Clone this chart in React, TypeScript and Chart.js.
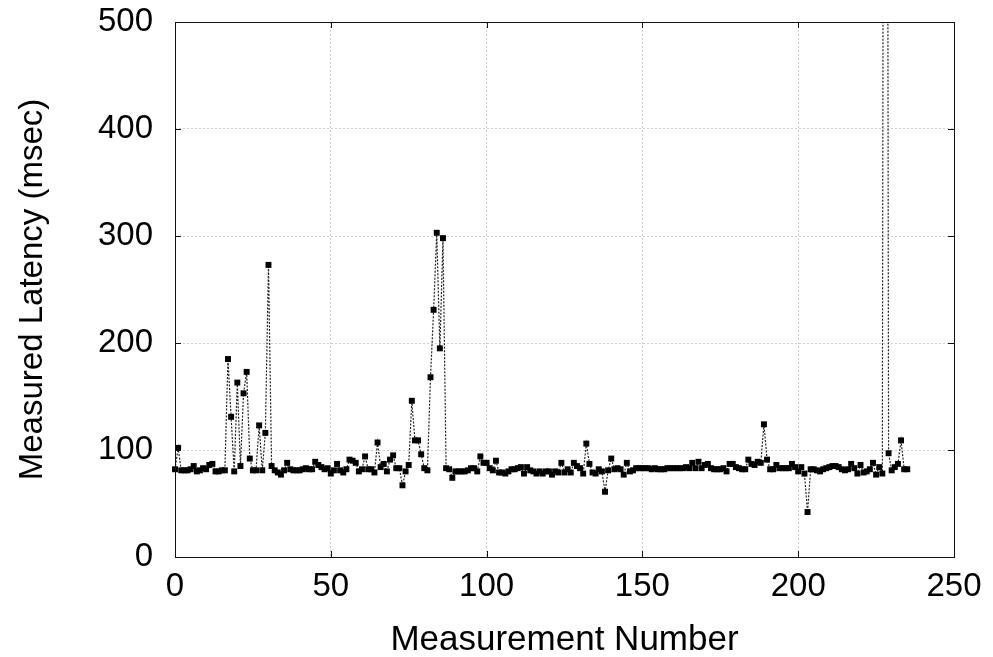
import React, { useEffect, useRef } from "react";
import { Chart, registerables } from "chart.js";

Chart.register(...registerables);

// Measured latency (msec) for measurement numbers 0..235
const latencyMs: number[] = [
  82, 102, 81, 81, 81, 82, 85, 80, 81, 83,
  82, 86, 87, 80, 80, 81, 81, 185, 131, 80,
  163, 85, 153, 173, 92, 81, 81, 123, 81, 116,
  273, 85, 81, 79, 77, 81, 88, 82, 81, 81,
  81, 82, 83, 82, 82, 89, 86, 84, 82, 83,
  78, 81, 87, 81, 79, 82, 91, 90, 88, 80,
  82, 94, 82, 82, 79, 107, 84, 87, 80, 91,
  95, 83, 83, 67, 80, 86, 146, 109, 109, 96,
  83, 81, 168, 231, 303, 195, 298, 83, 82, 74,
  80, 80, 80, 80, 81, 83, 83, 80, 94, 88,
  88, 83, 81, 90, 79, 79, 78, 80, 82, 82,
  83, 84, 78, 84, 81, 80, 78, 80, 78, 80,
  80, 77, 80, 79, 88, 79, 82, 79, 88, 85,
  83, 78, 106, 87, 79, 78, 82, 80, 61, 81,
  92, 82, 83, 82, 77, 88, 80, 81, 83, 83,
  83, 83, 83, 82, 83, 82, 82, 82, 83, 83,
  83, 83, 83, 83, 84, 83, 88, 83, 89, 83,
  86, 87, 83, 82, 82, 82, 83, 80, 87, 87,
  84, 83, 82, 82, 91, 87, 86, 89, 88, 124,
  91, 82, 82, 86, 83, 83, 83, 83, 87, 84,
  80, 84, 78, 42, 82, 82, 81, 80, 82, 83,
  84, 85, 85, 84, 82, 81, 82, 87, 83, 78,
  86, 79, 80, 82, 88, 77, 84, 78, 2000, 97,
  81, 84, 87, 109, 82, 82,
];

const xTicks: number[] = [0, 50, 100, 150, 200, 250];
const yTicks: number[] = [0, 100, 200, 300, 400, 500];

const xTitle = "Measurement Number";
const yTitle = "Measured Latency (msec)";

const FONT = "'Liberation Sans', Arial, Helvetica, sans-serif";

const framePlugin = {
  id: "frame",
  afterDatasetsDraw(chart: any) {
    const { ctx, chartArea: a, scales } = chart;
    ctx.save();
    ctx.strokeStyle = "#111";
    ctx.lineWidth = 1;
    ctx.setLineDash([]);
    ctx.strokeRect(Math.round(a.left) + 0.5, Math.round(a.top) + 0.5, Math.round(a.width), Math.round(a.height));
    const L = 6;
    ctx.beginPath();
    xTicks.forEach((v) => {
      const p = Math.round(scales.x.getPixelForValue(v)) + 0.5;
      ctx.moveTo(p, a.bottom);
      ctx.lineTo(p, a.bottom - L);
      ctx.moveTo(p, a.top);
      ctx.lineTo(p, a.top + L);
    });
    yTicks.forEach((v) => {
      const p = Math.round(scales.y.getPixelForValue(v)) + 0.5;
      ctx.moveTo(a.left, p);
      ctx.lineTo(a.left + L, p);
      ctx.moveTo(a.right, p);
      ctx.lineTo(a.right - L, p);
    });
    ctx.stroke();
    ctx.restore();
  },
};

export default function App() {
  const canvasRef = useRef<HTMLCanvasElement | null>(null);

  useEffect(() => {
    if (!canvasRef.current) return;
    const points = latencyMs.map((v, i) => ({ x: i, y: v }));
    const chart = new Chart(canvasRef.current, {
      type: "line",
      data: {
        datasets: [
          {
            data: points,
            borderColor: "#222",
            borderWidth: 1.2,
            borderDash: [2, 1.5],
            pointStyle: "rect",
            pointRadius: 4.2,
            pointBackgroundColor: "#000",
            pointBorderColor: "#000",
            pointBorderWidth: 0,
            tension: 0,
            clip: { left: 6, right: 6, top: 0, bottom: 6 } as any,
          },
        ],
      },
      options: {
        animation: false,
        responsive: true,
        maintainAspectRatio: false,
        layout: { padding: { top: 22, right: 39, bottom: 0, left: 0 } },
        plugins: {
          legend: { display: false },
          tooltip: { enabled: false },
        },
        scales: {
          x: {
            type: "linear",
            min: 0,
            max: 250,
            afterBuildTicks: (s: any) => {
              s.ticks = xTicks.map((v) => ({ value: v }));
            },
            afterFit: (s: any) => {
              s.height = 100;
              s.paddingLeft = 0;
              s.paddingRight = 0;
            },
            ticks: {
              padding: 10,
              color: "#000",
              font: { family: FONT, size: 33 },
              maxRotation: 0,
              autoSkip: false,
            },
            grid: { color: "#cfcfcf", lineWidth: 1, drawTicks: false },
            border: { display: false, dash: [2, 2] },
            title: {
              display: true,
              text: xTitle,
              color: "#000",
              font: { family: FONT, size: 35 },
              padding: { top: 0, bottom: -4 },
            },
          },
          y: {
            type: "linear",
            min: 0,
            max: 500,
            afterBuildTicks: (s: any) => {
              s.ticks = yTicks.map((v) => ({ value: v }));
            },
            afterFit: (s: any) => {
              s.width = 175;
              s.paddingTop = 0;
              s.paddingBottom = 0;
            },
            ticks: {
              padding: 22,
              color: "#000",
              font: { family: FONT, size: 33 },
            },
            grid: { color: "#cfcfcf", lineWidth: 1, drawTicks: false },
            border: { display: false, dash: [2, 2] },
            title: {
              display: true,
              text: yTitle,
              color: "#000",
              font: { family: FONT, size: 33 },
              padding: { top: 13, bottom: 0 },
            },
          },
        },
      },
      plugins: [framePlugin],
    });
    return () => chart.destroy();
  }, []);

  return (
    <div style={{ position: "absolute", left: 0, top: 0, width: 993, height: 657, background: "#fff" }}>
      <canvas ref={canvasRef} />
    </div>
  );
}
